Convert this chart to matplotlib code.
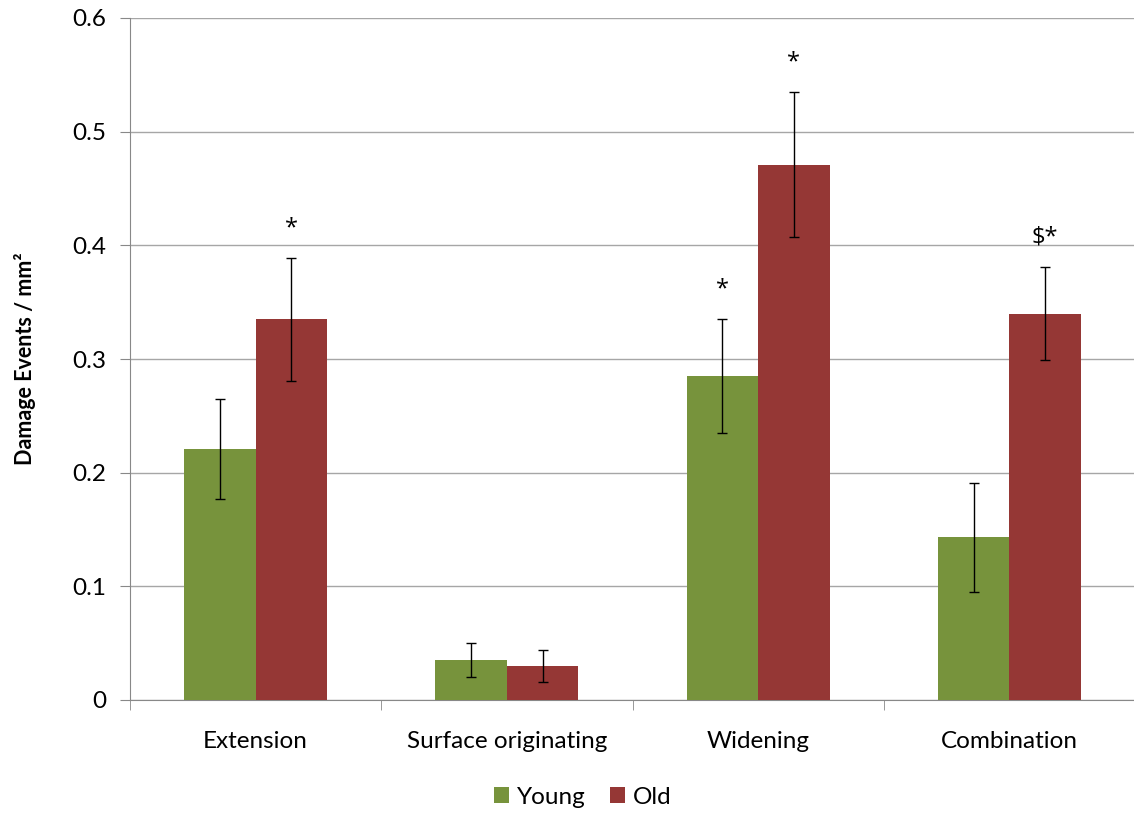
import matplotlib
matplotlib.use("Agg")
import matplotlib.pyplot as plt
import numpy as np

categories = ["Extension", "Surface originating", "Widening", "Combination"]
young = [0.221, 0.035, 0.285, 0.143]
young_err = [0.044, 0.015, 0.050, 0.048]
old = [0.335, 0.030, 0.471, 0.340]
old_err = [0.054, 0.014, 0.064, 0.041]
old_marks = ["*", "", "*", "$*"]
young_marks = ["", "", "*", ""]
yticks = [0, 0.1, 0.2, 0.3, 0.4, 0.5, 0.6]

plt.rcParams['font.family'] = ['Lato', 'DejaVu Sans']

fig = plt.figure(figsize=(11.34, 8.14), dpi=100)
ax = fig.add_axes([130/1134, 114/814, 1005/1134, 682/814])

x = np.arange(len(categories))
w = 0.285
green = "#77933C"
red = "#953735"

ax.bar(x - w/2, young, w, color=green, label="Young", zorder=3)
ax.bar(x + w/2, old, w, color=red, label="Old", zorder=3)
ax.errorbar(x - w/2, young, yerr=young_err, fmt="none", ecolor="black", elinewidth=1, capsize=3.5, capthick=1, zorder=4)
ax.errorbar(x + w/2, old, yerr=old_err, fmt="none", ecolor="black", elinewidth=1, capsize=3.5, capthick=1, zorder=4)

mark_font = ['Open Sans', 'DejaVu Sans']
for i in range(len(categories)):
    if old_marks[i]:
        ax.text(x[i] + w/2, old[i] + old_err[i] + 0.026, old_marks[i], ha="center", va="center",
                fontsize=17, family=mark_font)
    if young_marks[i]:
        ax.text(x[i] - w/2, young[i] + young_err[i] + 0.026, young_marks[i], ha="center", va="center",
                fontsize=17, family=mark_font)

ax.set_xlim(-0.5, len(categories) - 0.5)
ax.set_ylim(0, 0.6)
ax.set_yticks(yticks)
ax.set_yticklabels(["0" if t == 0 else f"{t:.1f}" for t in yticks], fontsize=17.5)
ax.yaxis.grid(True, color="#A6A6A6", linewidth=1, zorder=0)
ax.set_axisbelow(True)

ax.set_xticks(x)
ax.set_xticklabels(categories, fontsize=17.5)
ax.tick_params(axis="x", length=0, pad=22)
ax.set_xticks(np.arange(len(categories) + 1) - 0.5, minor=True)
ax.tick_params(axis="x", which="minor", length=7, color="#888888", direction="out")
ax.tick_params(axis="y", length=7, color="#888888", direction="out", pad=10)

for s in ["top", "right"]:
    ax.spines[s].set_visible(False)
for s in ["left", "bottom"]:
    ax.spines[s].set_color("#888888")

ax.set_ylabel("Damage Events / mm²", fontsize=15.5, fontweight="bold", labelpad=26)

ax.legend(loc="center", bbox_to_anchor=(453/1005, -97/682), ncol=2, frameon=False,
          fontsize=17.5, handlelength=0.6, handleheight=0.6, handletextpad=0.35, columnspacing=1.0)

fig.savefig("out.png", dpi=100)
